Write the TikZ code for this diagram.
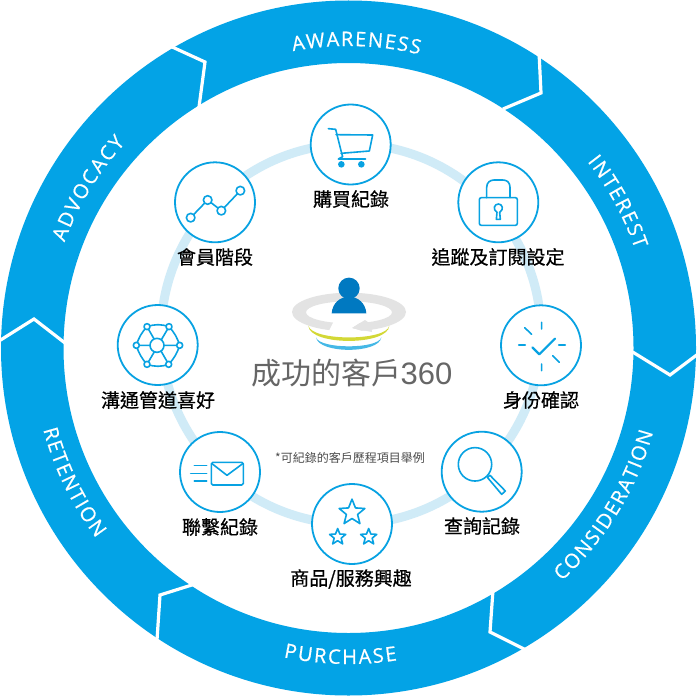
\documentclass[tikz,border=0pt]{standalone}
\usepackage{fontspec}
\usetikzlibrary{shapes.geometric}
\newfontfamily\cjk[FakeBold=0.6]{Noto Sans CJK TC}
\newfontfamily\cjkplain{Noto Sans CJK TC}
\newfontfamily\ringfont[FakeBold=0.6]{Open Sans}
\newfontfamily\numfont{Liberation Sans}
\definecolor{ringblue}{HTML}{03A3E6}
\definecolor{iconblue}{HTML}{08A2E2}
\definecolor{paleblue}{HTML}{D0EBF7}
\definecolor{person}{HTML}{0079C1}
\definecolor{swirl}{HTML}{E3E3E3}
\definecolor{lime}{HTML}{D3D836}
\definecolor{sky}{HTML}{45B8E6}
\tikzset{
  iconring/.style={circle,draw=iconblue,line width=1.8pt,fill=white,minimum size=80pt,inner sep=0pt},
  icon/.style={draw=iconblue,line width=1.6pt,line join=round,line cap=round},
  label/.style={font=\cjk\fontsize{19}{19}\selectfont,text=black,inner sep=0pt},
  chev/.style={draw=white,line width=3.2pt,miter limit=10},
  smallstar/.style={star,star points=5,star point ratio=2.3,draw=iconblue,line width=1.6pt,inner sep=0pt,line join=round},
  bandletter/.style={font=\ringfont\fontsize{20}{20}\selectfont,text=white,inner sep=0pt,anchor=base},
}
\newcommand{\measureletter}[1]{\setbox0=\hbox{\pgfinterruptpicture\ringfont\fontsize{20}{20}\selectfont #1\endpgfinterruptpicture}}
% centre angle, baseline radius, direction (1 clockwise, -1 anticlockwise), tracking, letters
\newcommand{\arcword}[5]{%
  \gdef\arctotal{0}%
  \foreach \c in {#5}{%
    \measureletter{\c}%
    \pgfmathsetmacro{\newtot}{\arctotal+\the\wd0/1pt+#4}%
    \xdef\arctotal{\newtot}%
  }%
  \pgfmathsetmacro{\startpos}{-\arctotal/2}%
  \xdef\arcpos{\startpos}%
  \foreach \c in {#5}{%
    \measureletter{\c}%
    \pgfmathsetmacro{\wdc}{\the\wd0/1pt+#4}%
    \pgfmathsetmacro{\ang}{#1-#3*(\arcpos+\wdc/2)/#2*57.29578}%
    \pgfmathsetmacro{\rot}{\ang-90*#3}%
    \node[bandletter,rotate=\rot] at ({348.5+#2*cos(\ang)},{348-#2*sin(\ang)}) {\c};%
    \pgfmathsetmacro{\newpos}{\arcpos+\wdc}%
    \xdef\arcpos{\newpos}%
  }%
}
\begin{document}
\begin{tikzpicture}[x=1pt,y=-1pt]
\useasboundingbox (0,0) rectangle (698,698);
\fill[white] (0,0) rectangle (698,698);
% outer band
\fill[ringblue,even odd rule] (348.5,348) circle[radius=347.5pt] (348.5,348) circle[radius=285pt];
% chevrons
\coordinate (a1) at (539,52); \coordinate (a2) at (541,93); \coordinate (a3) at (503,109);
\coordinate (b1) at (631,351); \coordinate (b2) at (670,375); \coordinate (b3) at (698,354);
\coordinate (c1) at (493,590); \coordinate (c2) at (490,632); \coordinate (c3) at (526,650);
\coordinate (d1) at (195,584); \coordinate (d2) at (160,595); \coordinate (d3) at (157,640);
\coordinate (e1) at (-1,341); \coordinate (e2) at (34,319); \coordinate (e3) at (65,343);
\coordinate (f1) at (170,46); \coordinate (f2) at (205,62); \coordinate (f3) at (199,107);
\draw[chev] (a1) -- (a2) -- (a3);
\draw[chev] (b1) -- (b2) -- (b3);
\draw[chev] (c1) -- (c2) -- (c3);
\draw[chev] (d1) -- (d2) -- (d3);
\draw[chev] (e1) -- (e2) -- (e3);
\draw[chev] (f1) -- (f2) -- (f3);
% band texts
\arcword{88.5}{302}{1}{1.5}{A,W,A,R,E,N,E,S,S}
\arcword{28.5}{303}{1}{1.7}{I,N,T,E,R,E,S,T}
\arcword{-31.5}{316}{-1}{1.6}{C,O,N,S,I,D,E,R,A,T,I,O,N}
\arcword{-91.5}{316}{-1}{1.9}{P,U,R,C,H,A,S,E}
\arcword{206}{316}{-1}{1.7}{R,E,T,E,N,T,I,O,N}
\arcword{148.5}{303}{1}{1.9}{A,D,V,O,C,A,C,Y}
% pale ring
\draw[paleblue,line width=9pt] (351,334) circle[radius=190pt];
% icon circles
\node[iconring] (cart) at (350.7,144.5) {};
\node[iconring] (lock) at (498.3,202.3) {};
\node[iconring] (check) at (541,345.3) {};
\node[iconring] (glass) at (481.7,471.7) {};
\node[iconring] (stars) at (352,524) {};
\node[iconring] (mail) at (220,472) {};
\node[iconring] (net) at (157.7,345) {};
\node[iconring] (chart) at (215,202.3) {};
% labels
\node[label] (l1) at (351,199) {購買紀錄};
\node[label] (l2) at (498,257) {追蹤及訂閱設定};
\node[label] (l3) at (541,400) {身份確認};
\node[label] (l4) at (482,526) {查詢記錄};
\node[label] (l5) at (351,579) {商品/服務興趣};
\node[label] (l6) at (220,527) {聯繫紀錄};
\node[label] (l7) at (158,400) {溝通管道喜好};
\node[label] (l8) at (215,257) {會員階段};
\node[inner sep=0pt,text=black!70,font=\cjkplain\fontsize{12}{12}\selectfont] (note) at (350,458) {*可紀錄的客戶歷程項目舉例};
\node[inner sep=0pt,text=black!60,font=\cjkplain\fontsize{30}{30}\selectfont] (title) at (352,373) {成功的客戶\hspace{-1pt}{\numfont\fontsize{31}{31}\selectfont 360}};
% cart
\begin{scope}[shift={(300,90)},x=0.33333pt,y=-0.33333pt]
\draw[icon] (85,116) -- (107,118) -- (125,190) (108,134) -- (218,135) -- (208,183) -- (123,190) (125,190) -- (128,200) -- (115,207) -- (197,207);
\fill[iconblue] (124,223) circle[radius=3.3pt] (184,223) circle[radius=3.3pt];
% lock
\draw[icon,rounded corners=2pt] (538,323) rectangle (652,406);
\draw[icon] (560,323) -- (560,292) .. controls (560,276) and (572,270) .. (582,270) -- (608,270) .. controls (620,270) and (630,276) .. (630,292) -- (630,323);
\draw[icon] (589,388) -- (591,367) .. controls (577,358) and (583,342) .. (595,342) .. controls (607,342) and (613,358) .. (599,367) -- (601,388) -- cycle;
\end{scope}
% chart
\begin{scope}[shift={(100,90)},x=0.33333pt,y=-0.33333pt]
\draw[icon] (272,383) -- (323,330) -- (364,362) -- (421,302);
\foreach \p in {(272,383),(323,330),(364,362),(421,302)}
  \draw[icon,fill=white] \p circle[radius=4.3pt];
\end{scope}
% network and mail
\begin{scope}[shift={(90,290)},x=0.33333pt,y=-0.33333pt]
\draw[icon] (171,110) to[bend left=18] (237,110) to[bend left=12] (269,166) to[bend left=12] (236,223) to[bend left=18] (171,223) to[bend left=12] (139,166) to[bend left=12] (171,110);
\draw[icon] (171,110) -- (236,223) (237,110) -- (171,223) (139,166) -- (269,166);
\foreach \p in {(171,110),(237,110),(269,166),(236,223),(171,223),(139,166)}
  \draw[icon,fill=white] \p circle[radius=3pt];
\draw[icon,fill=white] (201,166) circle[radius=7pt];
\draw[icon,rounded corners=1.5pt] (364,517) rectangle (460,585);
\draw[icon] (366,521) -- (411,556) -- (458,521);
\draw[icon] (313,527) -- (350,527) (302,550) -- (350,550) (313,573) -- (350,573);
\end{scope}
% check, magnifier, stars
\begin{scope}[shift={(290,290)},x=0.33333pt,y=-0.33333pt]
\draw[icon] (755,97) -- (755,117) (704,113) -- (725,133) (686,165) -- (706,165) (806,165) -- (826,165) (788,197) -- (808,217) (755,222) -- (755,242);
\draw[icon,line width=2.2pt] (727,172) -- (748,193) -- (795,146);
\draw[icon] (555,523) circle[radius=16.7pt];
\draw[icon] (592,562) -- (600,556) -- (646,603) -- (635,613) -- cycle;
\node[smallstar,minimum size=27pt] (s1) at (186,668) {};
\node[smallstar,minimum size=17pt] (s2) at (143,741) {};
\node[smallstar,minimum size=17pt] (s3) at (236,741) {};
\end{scope}
% central emblem
\begin{scope}[shift={(250,260)},x=0.33333pt,y=-0.33333pt]
\fill[swirl,even odd rule] (297,156) ellipse[x radius=57pt,y radius=19.3pt] (297,157) ellipse[x radius=43pt,y radius=11pt];
\fill[white] (252,183) -- (345,178) -- (306,204) -- (366,222) -- (232,222) -- cycle;
\fill[swirl] (345,180) -- (306,204) -- (366,216) -- (362,192) -- cycle;
\fill[lime] (175,197) .. controls (178,258) and (415,258) .. (418,197) .. controls (410,244) and (185,244) .. (175,197) -- cycle;
\fill[sky] (198,232) .. controls (205,282) and (388,282) .. (394,232) .. controls (385,268) and (208,268) .. (198,232) -- cycle;
\fill[person] (297,85) circle[radius=10.7pt];
\fill[person] (245,160) .. controls (247,130) and (270,110) .. (297,110) .. controls (324,110) and (347,130) .. (349,160) -- cycle;
\end{scope}
\end{tikzpicture}
\end{document}
